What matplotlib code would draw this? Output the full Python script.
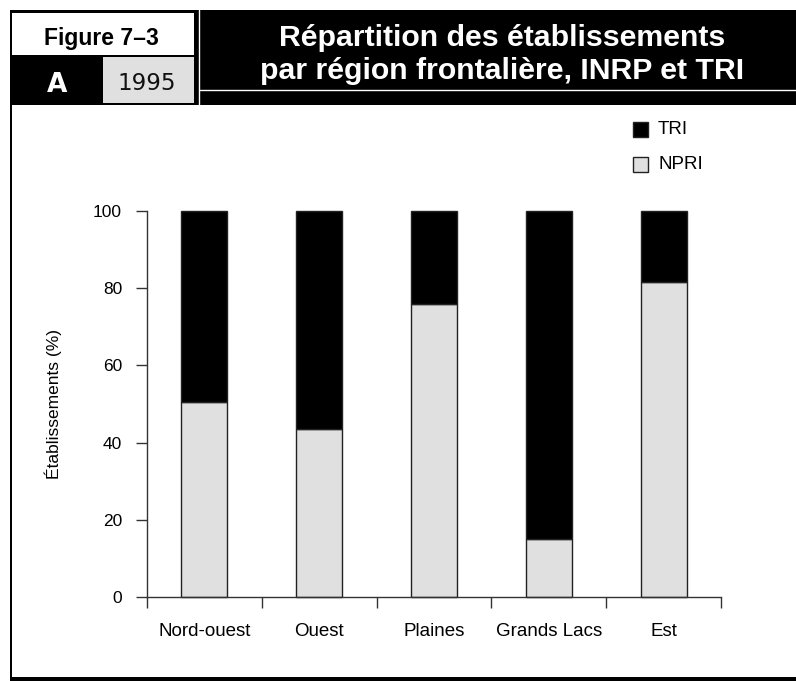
import matplotlib
matplotlib.use("Agg")
import matplotlib.pyplot as plt
from matplotlib.patches import Rectangle
from matplotlib.lines import Line2D

plt.rcParams['font.family'] = ['Liberation Sans', 'DejaVu Sans']

# --- data -----------------------------------------------------------------
regions = ["Nord-ouest", "Ouest", "Plaines", "Grands Lacs", "Est"]
npri_pct = [50.5, 43.5, 76.0, 15.0, 81.5]
tri_pct = [100 - v for v in npri_pct]
y_ticks = [0, 20, 40, 60, 80, 100]

fig_title = ["Répartition des établissements",
             "par région frontalière, INRP et TRI"]
fig_number = "Figure 7–3"
panel_letter = "A"
panel_year = "1995"
y_label = "Établissements (%)"
series_names = ["TRI", "NPRI"]

W, H = 796, 681
fig = plt.figure(figsize=(W / 100, H / 100), dpi=100)


def fx(px):
    return px / W


def fy(py):
    return 1 - py / H


def box(x0, y0, x1, y1, color):
    fig.patches.append(Rectangle((fx(x0), fy(y1)), fx(x1) - fx(x0), fy(y0) - fy(y1),
                                 transform=fig.transFigure, facecolor=color,
                                 edgecolor='none', zorder=0))


# --- header band ------------------------------------------------------------
box(10, 10, 796, 105, 'black')
box(12, 13, 194, 55, 'white')
box(103, 57, 194, 103, '#e0e0e0')
fig.lines.append(Line2D([fx(199), fx(199)], [fy(10), fy(105)], transform=fig.transFigure,
                        color='white', lw=1.0))
fig.lines.append(Line2D([fx(200), fx(796)], [fy(90), fy(90)], transform=fig.transFigure,
                        color='white', lw=1.0))
# frame: left rule and bottom band
box(10, 105, 12, 677, 'black')
box(10, 677, 796, 681, 'black')

fig.text(fx(101), fy(45), fig_number, ha='center', va='baseline',
         fontsize=16.5, fontweight='bold', color='black')
fig.text(fx(57), fy(92), panel_letter, ha='center', va='baseline',
         fontsize=19, fontweight='heavy', color='white', family=['DejaVu Sans'])
fig.text(fx(147), fy(90), panel_year, ha='center', va='baseline',
         fontsize=16.5, color='#111111', family=['DejaVu Sans'])
fig.text(fx(502), fy(46), fig_title[0], ha='center', va='baseline',
         fontsize=21.8, fontweight='bold', color='white')
fig.text(fx(502), fy(79), fig_title[1], ha='center', va='baseline',
         fontsize=21.8, fontweight='bold', color='white')

# --- chart ----------------------------------------------------------------
ax = fig.add_axes([fx(147), fy(597), fx(721) - fx(147), fy(211) - fy(597)])
x = list(range(len(regions)))
bw = 0.4
ax.bar(x, npri_pct, width=bw, color='#e0e0e0', edgecolor='#222222', linewidth=1.0,
       clip_on=False, zorder=2)
ax.bar(x, tri_pct, width=bw, bottom=npri_pct, color='black', edgecolor='#222222',
       linewidth=1.0, clip_on=False, zorder=2)

ax.set_xlim(-0.5, len(regions) - 0.5)
ax.set_ylim(0, 100)
ax.set_yticks(y_ticks)
ax.set_yticklabels([str(v) for v in y_ticks], fontsize=12.5)
ax.set_xticks(x)
ax.set_xticklabels(regions, fontsize=13.5)
ax.set_xticks([i - 0.5 for i in range(len(regions) + 1)], minor=True)
ax.tick_params(axis='x', which='major', length=0, pad=19)
ax.tick_params(axis='x', which='minor', length=8, width=1.0, color='#333333', direction='out')
ax.tick_params(axis='y', length=8, width=1.0, color='#333333', direction='out', pad=10)

for s in ['top', 'right']:
    ax.spines[s].set_visible(False)
for s in ['left', 'bottom']:
    ax.spines[s].set_color('#333333')
    ax.spines[s].set_linewidth(1.0)

ax.set_ylabel(y_label, fontsize=12.5)
ax.yaxis.set_label_coords(fx(62), fy(404), transform=fig.transFigure)

# --- legend ---------------------------------------------------------------
legend_colors = ['black', '#e0e0e0']
legend_rows = [129.5, 164.5]
for name, col, yc in zip(series_names, legend_colors, legend_rows):
    fig.patches.append(Rectangle((fx(633), fy(yc + 7.5)), fx(15), fx(15) * W / H,
                                 transform=fig.transFigure, facecolor=col,
                                 edgecolor='#222222', linewidth=1.0))
    fig.text(fx(658), fy(yc), name, ha='left', va='center', fontsize=13.5)

fig.savefig("out.png", dpi=100)
